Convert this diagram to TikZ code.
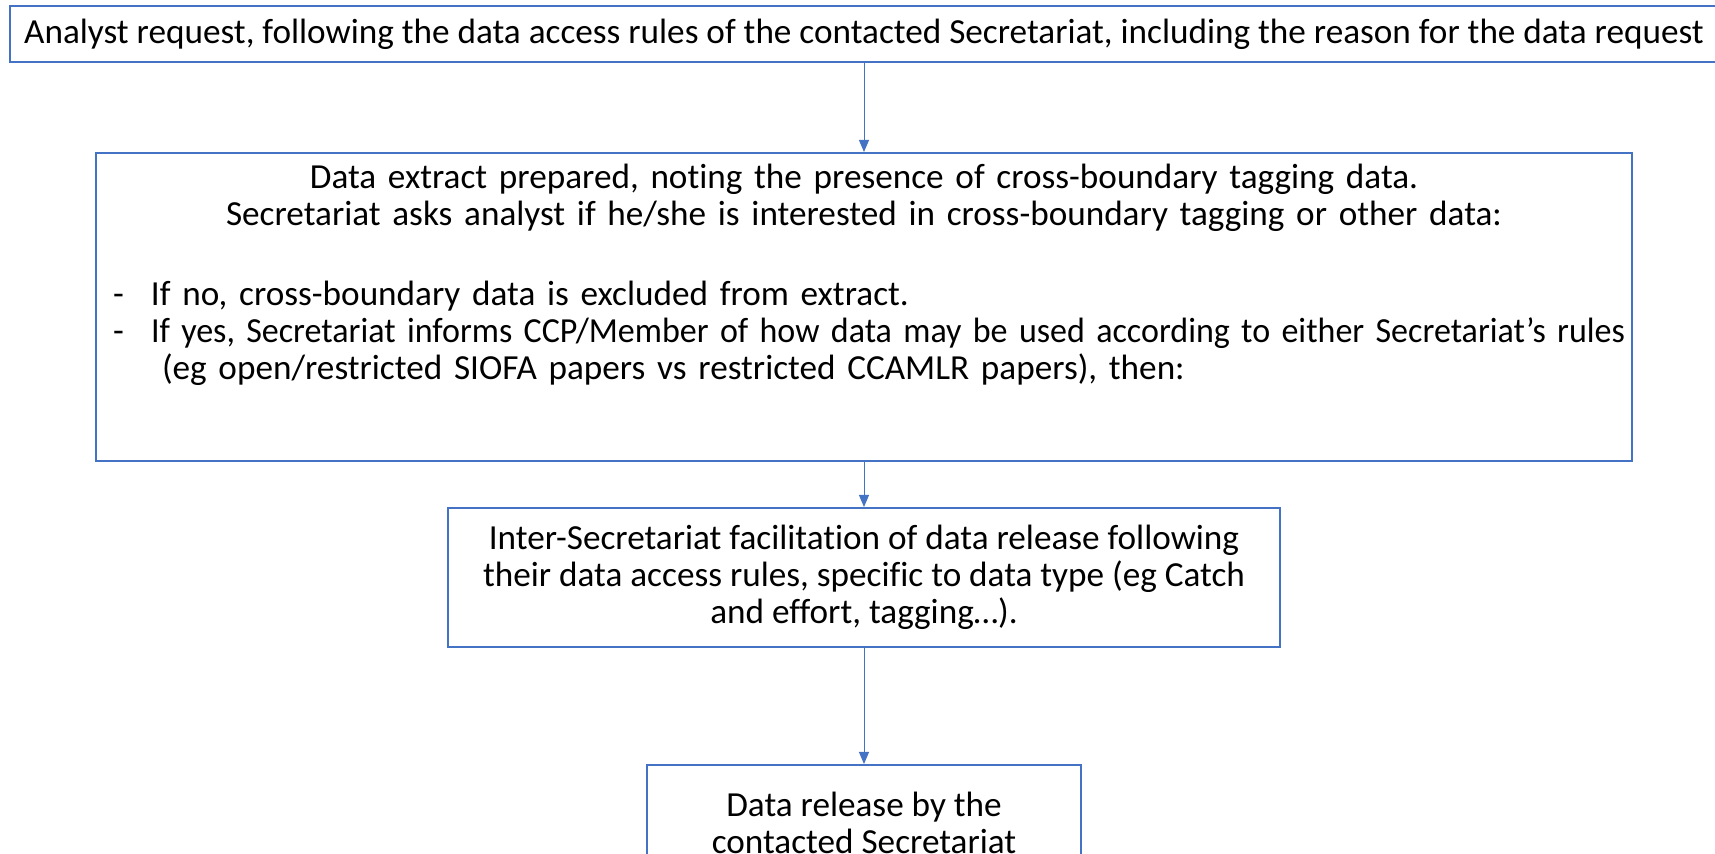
\documentclass[tikz,border=0pt]{standalone}
\usepackage{graphicx}
\usepackage{fontspec}
\setmainfont{Carlito}[Ligatures={TeX,NoCommon}]
\usetikzlibrary{arrows.meta,positioning}
\setlength{\parindent}{0pt}
\definecolor{boxblue}{HTML}{4472C4}
\tikzset{
  blk/.style={draw=boxblue, rectangle, line width=1pt, align=center, inner sep=0pt, font=\fontsize{17.6pt}{18.5pt}\selectfont},
  arr/.style={-{Triangle[length=6pt,width=5pt]}, draw=boxblue, line width=0.5pt},
}
\newcommand{\dashitem}[1]{\makebox[19pt][l]{-}\mbox{#1}\par}

\begin{document}
\begin{tikzpicture}
\clip (0,0) rectangle (857.5pt,-427pt);

\node[blk, minimum width=854pt, minimum height=28pt] (request) at (432pt,-17pt) {Analyst request, following the data access rules of the contacted Secretariat, including the reason for the data request};

\node[blk, below=44.5pt of request, minimum width=768pt, minimum height=154pt, text width=751pt, align=left, inner xsep=8.5pt] (extract) {%
  {\centering Data extract prepared, noting the presence of cross-boundary tagging data.\\
  Secretariat asks analyst if he/she is interested in cross-boundary tagging or other data:\par}
  \vspace{21.5pt}
  \dashitem{If no, cross-boundary data is excluded from extract.}
  \dashitem{\scalebox{0.966}[1]{If yes, Secretariat informs CCP/Member of how data may be used according to either Secretariat’s rules}}
  \hspace*{24.5pt}(eg open/restricted SIOFA papers vs restricted CCAMLR papers), then:\par
  \vspace{17pt}\mbox{}};

\node[blk, below=22.5pt of extract, minimum width=416pt, minimum height=69.5pt] (facil) {Inter-Secretariat facilitation of data release following\\their data access rules, specific to data type (eg Catch\\and effort, tagging…).};

\node[blk, below=58pt of facil, minimum width=217pt, minimum height=58pt] (release) {Data release by the\\contacted Secretariat};

\draw[arr] (request) -- (extract);
\draw[arr] (extract) -- (facil);
\draw[arr] (facil) -- (release);

\end{tikzpicture}
\end{document}
